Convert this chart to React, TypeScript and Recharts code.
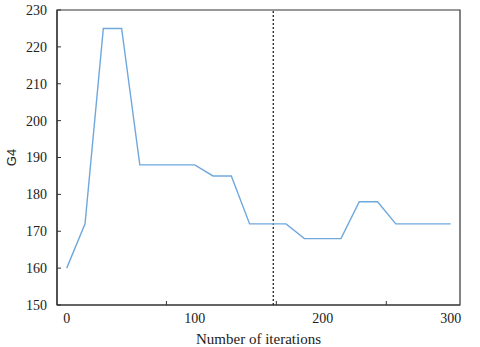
import React from "react";
import {
  LineChart,
  Line,
  XAxis,
  YAxis,
  ReferenceLine,
  ReferenceArea,
  Label,
} from "recharts";

// iteration number of each recorded point
const iterations = [
  0, 14.3, 28.6, 42.9, 57.1, 71.4, 85.7, 100, 114.3, 128.6, 142.9, 157.1,
  171.4, 185.7, 200, 214.3, 228.6, 242.9, 257.1, 271.4, 285.7, 300,
];
// G4 value at each point
const g4 = [
  160, 172, 225, 225, 188, 188, 188, 188, 185, 185, 172, 172, 172, 168, 168,
  168, 178, 178, 172, 172, 172, 172,
];
const xTicks = [0, 100, 200, 300];
const xMinorTicks = [77.9, 163.8, 249.7];
const yTicks = [150, 160, 170, 180, 190, 200, 210, 220, 230];
const cutoff = 161.4;

const data = iterations.map((it, i) => ({ it, g4: g4[i] }));

const xDomain = [-7.6, 307.3];
const yDomain = [150, 230];
const serif = "'Liberation Serif', 'Times New Roman', serif";
const tickFont = { fontFamily: serif, fontSize: 14, fill: "#222" };
const axisColor = "#333";
const frame = { stroke: axisColor, strokeWidth: 1.2 };
const yGap = 10;

// y tick: label plus a short mark pointing into the plot
const YTick = (props: any) => {
  const { x, y, payload } = props;
  return (
    <g>
      <line x1={x + yGap} x2={x + yGap + 4} y1={y} y2={y} stroke={axisColor} />
      <text
        x={x}
        y={y}
        dy="0.35em"
        textAnchor="end"
        style={tickFont}
      >
        {payload.value}
      </text>
    </g>
  );
};

// short inward mark at the bottom of a vertical reference line
const MinorTick = (props: any) => {
  const yb = Math.max(props.y1, props.y2);
  return (
    <line x1={props.x1} x2={props.x1} y1={yb} y2={yb - 4} stroke={axisColor} />
  );
};

export default function App() {
  return (
    <div style={{ position: "absolute", left: 0, top: 0 }}>
      <LineChart
        width={480}
        height={347}
        data={data}
        margin={{ top: 10, right: 20, left: 0, bottom: 0 }}
      >
        <XAxis
          dataKey="it"
          type="number"
          domain={xDomain}
          ticks={xTicks}
          tickLine={false}
          axisLine={frame}
          tick={tickFont}
          height={42}
        >
          <Label
            value="Number of iterations"
            position="insideBottom"
            offset={3}
            style={{ fontFamily: serif, fontSize: 15, fill: "#222" }}
          />
        </XAxis>
        <YAxis
          domain={yDomain}
          ticks={yTicks}
          width={57}
          tickSize={0}
          tickMargin={yGap}
          tickLine={false}
          axisLine={frame}
          tick={<YTick />}
        >
          <Label
            value="G4"
            angle={-90}
            position="insideLeft"
            offset={11}
            style={{
              fontFamily: "'Liberation Sans', Arial, sans-serif",
              fontSize: 13,
              fill: "#222",
              textAnchor: "middle",
            }}
          />
        </YAxis>
        <ReferenceArea
          x1={xDomain[0]}
          x2={xDomain[1]}
          y1={yDomain[0]}
          y2={yDomain[1]}
          fill="none"
          stroke={axisColor}
          strokeWidth={1.2}
          fillOpacity={0}
        />
        {xMinorTicks.map((t) => (
          <ReferenceLine key={t} x={t} shape={<MinorTick />} />
        ))}
        <ReferenceLine
          x={cutoff}
          stroke="#222"
          strokeWidth={1.3}
          strokeDasharray="2 2"
        />
        <Line
          type="linear"
          dataKey="g4"
          stroke="#6FA8DC"
          strokeWidth={1.4}
          dot={false}
          isAnimationActive={false}
        />
      </LineChart>
    </div>
  );
}
